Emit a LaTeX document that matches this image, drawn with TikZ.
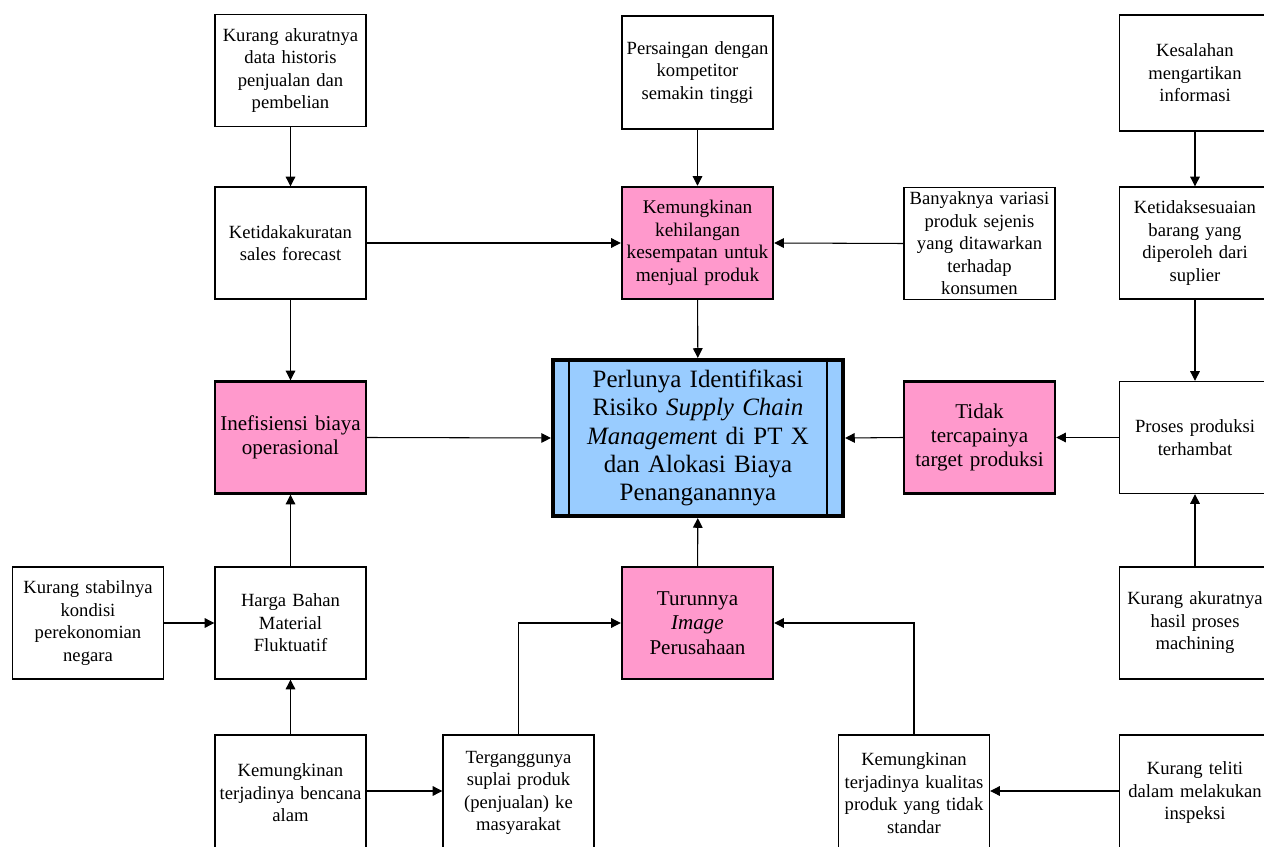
\documentclass[tikz,border=0pt]{standalone}
\usepackage{fontspec}
\setmainfont{Liberation Serif}
\usetikzlibrary{arrows.meta,calc}
\definecolor{pinkc}{HTML}{FF99CC}
\definecolor{bluec}{HTML}{99CCFF}
\begin{document}
\begin{tikzpicture}[x=0.02cm,y=-0.02cm,
  box/.style={draw, line width=0.8pt, fill=white, minimum width=3.02cm, minimum height=2.24cm,
    text width=2.9cm, align=center, inner sep=1pt, font=\fontsize{10.6}{12.8}\selectfont},
  lowbox/.style={box, minimum height=2.32cm},
  pbox/.style={box, fill=pinkc, line width=1.4pt, font=\fontsize{12}{13.8}\selectfont},
  arr/.style={-{Triangle[length=5.5pt,width=5.5pt]}, line width=0.6pt}]
\useasboundingbox (0,0) rectangle (1264,847);
\fill[white] (0,0) rectangle (1264,847);

\node[box] (A) at (290.5,70.5) {Kurang akuratnya\\data historis\\penjualan dan\\pembelian};
\node[box] (B) at (290.5,243) {Ketidakakuratan\\sales forecast};
\node[pbox] (C) at (290.5,437.5) {Inefisiensi biaya\\operasional};
\node[box] (D) at (290.5,623) {Harga Bahan\\Material\\Fluktuatif};
\node[box] (E) at (88,623) {Kurang stabilnya\\kondisi\\perekonomian\\negara};
\node[lowbox] (F) at (290.5,793) {Kemungkinan\\terjadinya bencana\\alam};
\node[lowbox] (G) at (518.5,793) {Terganggunya\\suplai produk\\(penjualan) ke\\masyarakat};
\node[pbox] (H) at (697.5,623) {Turunnya\\\textit{Image}\\Perusahaan};
\node[lowbox] (I) at (914,793) {Kemungkinan\\terjadinya kualitas\\produk yang tidak\\standar};
\node[lowbox] (J) at (1195,793) {Kurang teliti\\dalam melakukan\\inspeksi};
\node[box] (K) at (1195,623) {Kurang akuratnya\\hasil proses\\machining};
\node[box] (L) at (1195,437.5) {Proses produksi\\terhambat};
\node[pbox] (M) at (979.5,437.5) {Tidak\\tercapainya\\target produksi};
\node[box] (N) at (1195,243) {Ketidaksesuaian\\barang yang\\diperoleh dari\\suplier};
\node[box, minimum height=2.32cm] (O) at (1195,73) {Kesalahan\\mengartikan\\informasi};
\node[box] (P) at (979.5,243.5) {Banyaknya variasi\\produk sejenis\\yang ditawarkan\\terhadap\\konsumen};
\node[pbox, font=\fontsize{11}{12.8}\selectfont] (Q) at (697.5,243) {Kemungkinan\\kehilangan\\kesempatan untuk\\menjual produk};
\node[box, minimum height=2.26cm] (R) at (697.5,72.5) {Persaingan dengan\\kompetitor\\semakin tinggi};

\node[draw, line width=2.4pt, fill=bluec, minimum width=5.8cm, minimum height=3.12cm,
  text width=4.9cm, align=center, inner sep=1pt, font=\fontsize{14.2}{16}\selectfont] (S) at (698,438)
  {Perlunya Identifikasi\\Risiko \textit{Supply Chain}\\\textit{Managemen}t di PT X\\dan Alokasi Biaya\\Penanganannya};
\draw[line width=1.6pt] ($(S.north west)+(18,0)$) -- ($(S.south west)+(18,0)$);
\draw[line width=1.6pt] ($(S.north east)+(-18,0)$) -- ($(S.south east)+(-18,0)$);

\draw[arr] (A) -- (B);
\draw[arr] (B) -- (C);
\draw[arr] (B.east) -- (Q.west);
\draw[arr] (P.west) -- (Q.east);
\draw[arr] (R) -- (Q);
\draw[arr] (Q) -- (S);
\draw[arr] (C.east) -- (S.west);
\draw[arr] (M.west) -- (S.east);
\draw[arr] (L.west) -- (M.east);
\draw[arr] (O) -- (N);
\draw[arr] (N) -- (L);
\draw[arr] (K) -- (L);
\draw[arr] (H) -- (S);
\draw[arr] (D) -- (C);
\draw[arr] (E.east) -- (D.west);
\draw[arr] (F) -- (D);
\draw[arr] ($(F.east)+(0,-2)$) -- ($(G.west)+(0,-2)$);
\draw[arr] (G.north) |- (H.west);
\draw[arr] (I.north) |- (H.east);
\draw[arr] ($(J.west)+(0,-2)$) -- ($(I.east)+(0,-2)$);
\end{tikzpicture}
\end{document}
